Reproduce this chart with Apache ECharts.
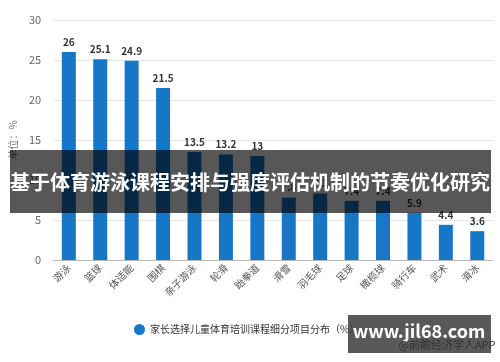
<!DOCTYPE html>
<html>
<head>
<meta charset="utf-8">
<script src="https://cdn.jsdelivr.net/npm/echarts@6/dist/echarts.min.js"></script>
<style>
html,body{margin:0;padding:0;background:#fff;}
#chart{width:500px;height:362px;}
</style>
</head>
<body>
<div id="chart"></div>
<script>
const categories = ['游泳','篮球','体适能','围棋','亲子游泳','轮滑','跆拳道','滑雪','羽毛球','足球','橄榄球','骑行车','武术','滑冰'];
const values = [26, 25.1, 24.9, 21.5, 13.5, 13.2, 13, 7.8, 8.3, 7.4, 7.4, 5.9, 4.4, 3.6];
const yTicks = [0, 5, 10, 15, 20, 25, 30];
const seriesName = '家长选择儿童体育培训课程细分项目分布（%）';
const yAxisName = '单位：%';
const bannerTitle = '基于体育游泳课程安排与强度评估机制的节奏优化研究';
const siteMark = 'www.jil68.com';
const sourceMark = '@前瞻经济学人APP';

const chart = echarts.init(document.getElementById('chart'));
const font = '"Microsoft YaHei","Noto Sans CJK SC",sans-serif';
chart.setOption({
  animation: false,
  textStyle: {fontFamily: font},
  grid: {left: 49, right: 7, top: 20, bottom: 102},
  legend: {
    data: [seriesName],
    left: 129, top: 319,
    icon: 'circle', itemWidth: 11, itemHeight: 11, itemGap: 6,
    textStyle: {fontSize: 10, color: '#333', fontFamily: font}
  },
  xAxis: {
    type: 'category',
    data: categories,
    axisLine: {lineStyle: {color: '#bbb'}},
    axisTick: {alignWithLabel: true, length: 4, lineStyle: {color: '#999'}},
    axisLabel: {rotate: 45, fontSize: 10, color: '#555', margin: 6, interval: 0}
  },
  yAxis: {
    type: 'value',
    min: yTicks[0], max: yTicks[yTicks.length - 1], interval: 5,
    name: yAxisName, nameLocation: 'middle', nameGap: 35,
    nameTextStyle: {fontSize: 10, color: '#777'},
    axisLine: {show: false}, axisTick: {show: false},
    axisLabel: {fontSize: 11, color: '#666', margin: 12},
    splitLine: {lineStyle: {color: '#e6e6e6', width: 1}}
  },
  series: [{
    name: seriesName,
    type: 'bar',
    data: values,
    barWidth: 14,
    itemStyle: {color: '#1677c6'},
    label: {show: true, position: 'top', distance: 5, fontSize: 10, fontWeight: 'bold', color: '#333'}
  }],
  graphic: [
    {type: 'rect', z: 100, shape: {x: 10, y: 150, width: 481, height: 63}, style: {fill: 'rgba(0,0,0,0.66)'}},
    {type: 'text', z: 101, x: 250, y: 182, style: {text: bannerTitle, fill: '#fff', font: 'bold 20px ' + font, textAlign: 'center', textVerticalAlign: 'middle'}},
    {type: 'rect', z: 100, shape: {x: 348, y: 315, width: 143, height: 38}, style: {fill: 'rgba(60,60,60,0.85)'}},
    {type: 'text', z: 101, x: 419, y: 331, style: {text: siteMark, fill: '#fff', font: 'bold 18px ' + font, textAlign: 'center', textVerticalAlign: 'middle'}},
    {type: 'text', z: 101, x: 447, y: 345, style: {text: sourceMark, fill: '#333', font: '11px ' + font, textAlign: 'center', textVerticalAlign: 'middle'}}
  ]
});
</script>
</body>
</html>
